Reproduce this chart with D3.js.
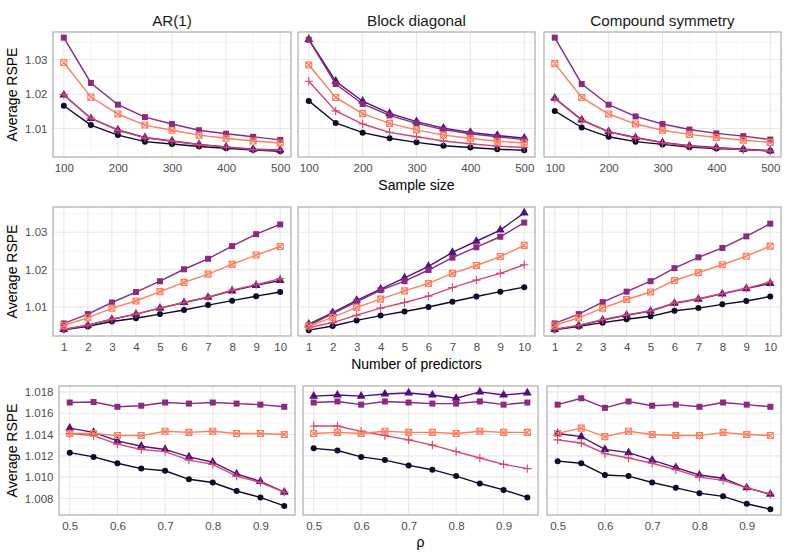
<!DOCTYPE html>
<html>
<head>
<meta charset="utf-8">
<script src="https://cdn.jsdelivr.net/npm/d3@7"></script>
<style>
  body { margin: 0; background: #fff; }
  svg { font-family: "Liberation Sans", Arial, sans-serif; }
</style>
</head>
<body>
<div id="chart"></div>
<script>
// covariance structures (columns) and the three simulation settings (rows)
var structures = ["AR(1)", "Block diagonal", "Compound symmetry"];
var sampleSizes = [100, 150, 200, 250, 300, 350, 400, 450, 500];
var predictorCounts = [1, 2, 3, 4, 5, 6, 7, 8, 9, 10];
var rhoValues = [0.5, 0.55, 0.6, 0.65, 0.7, 0.75, 0.8, 0.85, 0.9, 0.95];

// series order: circle, triangle, filled square, plus, boxed cross
// --- sample size row ---
var sizeAR = [
  [1.0166, 1.0110, 1.0081, 1.0062, 1.0055, 1.0048, 1.0043, 1.0038, 1.0034],
  [1.0197, 1.0129, 1.0096, 1.0074, 1.0064, 1.0054, 1.0047, 1.0040, 1.0038],
  [1.0363, 1.0232, 1.0169, 1.0133, 1.0113, 1.0095, 1.0085, 1.0076, 1.0067],
  [1.0198, 1.0130, 1.0095, 1.0073, 1.0063, 1.0053, 1.0046, 1.0039, 1.0037],
  [1.0291, 1.0191, 1.0142, 1.0110, 1.0095, 1.0081, 1.0072, 1.0064, 1.0058]
];
var sizeBlock = [
  [1.0180, 1.0116, 1.0088, 1.0072, 1.0060, 1.0050, 1.0045, 1.0040, 1.0037],
  [1.0358, 1.0237, 1.0179, 1.0144, 1.0120, 1.0101, 1.0089, 1.0080, 1.0072],
  [1.0357, 1.0229, 1.0171, 1.0138, 1.0115, 1.0097, 1.0085, 1.0076, 1.0068],
  [1.0237, 1.0151, 1.0113, 1.0089, 1.0076, 1.0064, 1.0056, 1.0049, 1.0045],
  [1.0284, 1.0190, 1.0143, 1.0115, 1.0096, 1.0081, 1.0072, 1.0063, 1.0058]
];
var sizeCS = [
  [1.0151, 1.0103, 1.0076, 1.0062, 1.0054, 1.0046, 1.0042, 1.0039, 1.0035],
  [1.0188, 1.0125, 1.0091, 1.0074, 1.0060, 1.0050, 1.0045, 1.0040, 1.0036],
  [1.0363, 1.0229, 1.0169, 1.0135, 1.0113, 1.0097, 1.0086, 1.0078, 1.0068],
  [1.0187, 1.0124, 1.0090, 1.0073, 1.0059, 1.0049, 1.0044, 1.0039, 1.0035],
  [1.0288, 1.0190, 1.0142, 1.0113, 1.0095, 1.0083, 1.0074, 1.0066, 1.0060]
];

// --- number of predictors row ---
var predAR = [
  [1.0039, 1.0048, 1.0061, 1.0070, 1.0081, 1.0092, 1.0105, 1.0117, 1.0129, 1.0140],
  [1.0040, 1.0051, 1.0067, 1.0081, 1.0097, 1.0112, 1.0126, 1.0143, 1.0158, 1.0171],
  [1.0056, 1.0081, 1.0112, 1.0140, 1.0169, 1.0201, 1.0229, 1.0263, 1.0295, 1.0321],
  [1.0040, 1.0051, 1.0067, 1.0081, 1.0097, 1.0112, 1.0126, 1.0145, 1.0160, 1.0176],
  [1.0051, 1.0071, 1.0097, 1.0116, 1.0141, 1.0166, 1.0188, 1.0214, 1.0239, 1.0262]
];
var predBlock = [
  [1.0038, 1.0049, 1.0064, 1.0077, 1.0088, 1.0100, 1.0114, 1.0128, 1.0141, 1.0153],
  [1.0054, 1.0085, 1.0118, 1.0148, 1.0178, 1.0209, 1.0246, 1.0276, 1.0306, 1.0352],
  [1.0051, 1.0082, 1.0114, 1.0145, 1.0169, 1.0199, 1.0232, 1.0260, 1.0288, 1.0326],
  [1.0045, 1.0058, 1.0078, 1.0097, 1.0112, 1.0129, 1.0152, 1.0172, 1.0190, 1.0213],
  [1.0049, 1.0072, 1.0099, 1.0121, 1.0143, 1.0163, 1.0190, 1.0211, 1.0235, 1.0265]
];
var predCS = [
  [1.0039, 1.0048, 1.0058, 1.0067, 1.0075, 1.0090, 1.0097, 1.0107, 1.0116, 1.0128],
  [1.0040, 1.0050, 1.0065, 1.0078, 1.0089, 1.0110, 1.0121, 1.0135, 1.0149, 1.0163],
  [1.0056, 1.0081, 1.0113, 1.0141, 1.0169, 1.0204, 1.0233, 1.0258, 1.0289, 1.0323],
  [1.0040, 1.0051, 1.0066, 1.0079, 1.0090, 1.0111, 1.0122, 1.0136, 1.0150, 1.0167],
  [1.0051, 1.0071, 1.0097, 1.0120, 1.0140, 1.0171, 1.0192, 1.0213, 1.0236, 1.0263]
];

// --- rho row ---
var rhoAR = [
  [1.0123, 1.0119, 1.0113, 1.0108, 1.0106, 1.0098, 1.0095, 1.0087, 1.0081, 1.0073],
  [1.0146, 1.0142, 1.0134, 1.0129, 1.0126, 1.0119, 1.0114, 1.0103, 1.0096, 1.0086],
  [1.0170, 1.01705, 1.0166, 1.0167, 1.0170, 1.0169, 1.0170, 1.0169, 1.0168, 1.0166],
  [1.0141, 1.0139, 1.0131, 1.0126, 1.0124, 1.0116, 1.0112, 1.0101, 1.0095, 1.0086],
  [1.0141, 1.0141, 1.0139, 1.0139, 1.0143, 1.0142, 1.0143, 1.0141, 1.0141, 1.0140]
];
var rhoBlock = [
  [1.0127, 1.0125, 1.0119, 1.0116, 1.0111, 1.0107, 1.0101, 1.0094, 1.0088, 1.0081],
  [1.0176, 1.0177, 1.0176, 1.0178, 1.0179, 1.0177, 1.0174, 1.0180, 1.0177, 1.0179],
  [1.0170, 1.0171, 1.0168, 1.0171, 1.0170, 1.0169, 1.0169, 1.0171, 1.0168, 1.0170],
  [1.0148, 1.0148, 1.0143, 1.0139, 1.0135, 1.0130, 1.0124, 1.0118, 1.0112, 1.0108],
  [1.0141, 1.0142, 1.0141, 1.0143, 1.0142, 1.0142, 1.0141, 1.0143, 1.0142, 1.0142]
];
var rhoCS = [
  [1.0115, 1.0113, 1.0102, 1.0101, 1.0095, 1.0090, 1.0085, 1.0082, 1.0075, 1.0070],
  [1.0141, 1.0138, 1.0126, 1.0123, 1.0116, 1.0109, 1.0102, 1.0099, 1.0090, 1.0084],
  [1.0168, 1.0174, 1.0165, 1.0171, 1.0167, 1.0168, 1.0166, 1.0170, 1.0168, 1.0166],
  [1.0135, 1.0132, 1.0122, 1.0118, 1.0113, 1.0107, 1.0100, 1.0097, 1.0090, 1.0084],
  [1.0141, 1.0146, 1.0138, 1.0143, 1.0140, 1.0139, 1.0139, 1.0142, 1.0140, 1.0139]
];

var xTicksSize = [100, 200, 300, 400, 500];
var xTicksPred = [1, 2, 3, 4, 5, 6, 7, 8, 9, 10];
var xTicksRho = [0.5, 0.6, 0.7, 0.8, 0.9];
var yTicksTop = [1.01, 1.02, 1.03];
var yTicksRho = [1.008, 1.010, 1.012, 1.014, 1.016, 1.018];

var colors = ["#0d0a29", "#4f127b", "#8c2981", "#d6456c", "#fb7e5f"];
var shapes = ["circle", "triangle", "square", "plus", "boxcross"];

var width = 789, height = 557;

var svg = d3.select("#chart").append("svg")
  .attr("width", width)
  .attr("height", height);

// layout of each row
var rows = [
  { x: sampleSizes, data: [sizeAR, sizeBlock, sizeCS], xTicks: xTicksSize, xMinor: [150, 250, 350, 450],
    yTicks: yTicksTop, yMinor: [1.005, 1.015, 1.025, 1.035], yFmt: d3.format(".2f"),
    top: 32, bottom: 157, cols: [[53, 291], [298, 535], [544, 781]], title: "Sample size", xFmt: d3.format("d") },
  { x: predictorCounts, data: [predAR, predBlock, predCS], xTicks: xTicksPred, xMinor: [],
    yTicks: yTicksTop, yMinor: [1.005, 1.015, 1.025, 1.035], yFmt: d3.format(".2f"),
    top: 207, bottom: 336, cols: [[53, 291], [298, 535], [544, 781]], title: "Number of predictors", xFmt: d3.format("d") },
  { x: rhoValues, data: [rhoAR, rhoBlock, rhoCS], xTicks: xTicksRho, xMinor: [0.55, 0.65, 0.75, 0.85, 0.95],
    yTicks: yTicksRho, yMinor: [1.007, 1.009, 1.011, 1.013, 1.015, 1.017, 1.019], yFmt: d3.format(".3f"),
    top: 386, bottom: 515, cols: [[59, 295], [303, 538], [547, 781]], title: "\u03c1", xFmt: d3.format(".1f") }
];

function expand(ext) {
  var r = ext[1] - ext[0];
  return [ext[0] - 0.05 * r, ext[1] + 0.05 * r];
}

function drawMarker(g, shape, color) {
  if (shape === "circle") {
    g.append("circle").attr("r", 3).attr("fill", color);
  } else if (shape === "triangle") {
    g.append("path").attr("d", d3.symbol(d3.symbolTriangle, 34)()).attr("fill", color);
  } else if (shape === "square") {
    g.append("rect").attr("x", -3).attr("y", -3).attr("width", 6).attr("height", 6).attr("fill", color);
  } else if (shape === "plus") {
    g.append("path").attr("d", "M-4.2,0H4.2M0,-4.2V4.2").attr("stroke", color).attr("stroke-width", 1.1);
  } else {
    g.append("path").attr("d", "M-3,-3H3V3H-3Z M-3,-3L3,3 M3,-3L-3,3")
      .attr("fill", "none").attr("stroke", color).attr("stroke-width", 1.1);
  }
}

rows.forEach(function(row, ri) {
  var allY = row.data.flat(2);
  var y = d3.scaleLinear()
    .domain(expand(d3.extent(allY)))
    .range([row.bottom, row.top]);

  row.cols.forEach(function(c, ci) {
    var x = d3.scaleLinear()
      .domain(expand(d3.extent(row.x)))
      .range([c[0], c[1]]);
    var panel = svg.append("g");

    // minor grid
    panel.selectAll(".ymin").data(row.yMinor.filter(v => y(v) > row.top && y(v) < row.bottom))
      .join("line")
      .attr("x1", c[0]).attr("x2", c[1])
      .attr("y1", d => y(d)).attr("y2", d => y(d))
      .attr("stroke", "#f2f2f2").attr("stroke-width", 0.7);
    panel.selectAll(".xmin").data(row.xMinor)
      .join("line")
      .attr("y1", row.top).attr("y2", row.bottom)
      .attr("x1", d => x(d)).attr("x2", d => x(d))
      .attr("stroke", "#f2f2f2").attr("stroke-width", 0.7);

    // major grid
    panel.selectAll(".ymaj").data(row.yTicks)
      .join("line")
      .attr("x1", c[0]).attr("x2", c[1])
      .attr("y1", d => y(d)).attr("y2", d => y(d))
      .attr("stroke", "#e8e8e8").attr("stroke-width", 1.1);
    panel.selectAll(".xmaj").data(row.xTicks)
      .join("line")
      .attr("y1", row.top).attr("y2", row.bottom)
      .attr("x1", d => x(d)).attr("x2", d => x(d))
      .attr("stroke", "#e8e8e8").attr("stroke-width", 1.1);

    // x axis labels
    var xAxis = panel.append("g")
      .attr("transform", `translate(0,${row.bottom})`)
      .call(d3.axisBottom(x).tickValues(row.xTicks).tickFormat(row.xFmt).tickSize(2.5).tickPadding(4));
    xAxis.select(".domain").remove();
    xAxis.selectAll(".tick line").attr("stroke", "#4d4d4d").attr("stroke-opacity", 0);
    xAxis.selectAll("text").attr("fill", "#4d4d4d").style("font-size", "11.5px")
      .style("font-family", "Liberation Sans, Arial, sans-serif");

    // y axis labels only on the first column
    if (ci === 0) {
      var yAxis = panel.append("g")
        .attr("transform", `translate(${c[0]},0)`)
        .call(d3.axisLeft(y).tickValues(row.yTicks).tickFormat(row.yFmt).tickSize(2.5).tickPadding(3));
      yAxis.select(".domain").remove();
      yAxis.selectAll(".tick line").attr("stroke-opacity", 0);
      yAxis.selectAll("text").attr("fill", "#4d4d4d").style("font-size", "11.5px")
        .style("font-family", "Liberation Sans, Arial, sans-serif");
    }

    // lines and markers
    var line = d3.line().x((d, i) => x(row.x[i])).y(d => y(d));
    row.data[ci].forEach(function(series, si) {
      panel.append("path")
        .datum(series)
        .attr("fill", "none")
        .attr("stroke", colors[si])
        .attr("stroke-width", 1.4)
        .attr("d", line);
      series.forEach(function(v, i) {
        var g = panel.append("g").attr("transform", `translate(${x(row.x[i])},${y(v)})`);
        drawMarker(g, shapes[si], colors[si]);
      });
    });

    // panel border
    panel.append("rect")
      .attr("x", c[0]).attr("y", row.top)
      .attr("width", c[1] - c[0]).attr("height", row.bottom - row.top)
      .attr("fill", "none").attr("stroke", "#a6a6a6").attr("stroke-width", 1.1);

    // strip titles on the top row
    if (ri === 0) {
      svg.append("text")
        .attr("x", (c[0] + c[1]) / 2).attr("y", 26)
        .attr("text-anchor", "middle")
        .style("font-size", "15.2px").attr("fill", "#1a1a1a")
        .text(structures[ci]);
    }
  });

  // x axis title centered under the middle panel
  var mid = row.cols[1];
  svg.append("text")
    .attr("x", (mid[0] + mid[1]) / 2)
    .attr("y", row.bottom + (ri === 2 ? 32 : 33))
    .attr("text-anchor", "middle")
    .style("font-size", "14px").attr("fill", "#000")
    .text(row.title);

  // y axis title
  svg.append("text")
    .attr("transform", `translate(17,${(row.top + row.bottom) / 2}) rotate(-90)`)
    .attr("text-anchor", "middle")
    .style("font-size", "14px").attr("fill", "#000")
    .text("Average RSPE");
});
</script>
</body>
</html>
